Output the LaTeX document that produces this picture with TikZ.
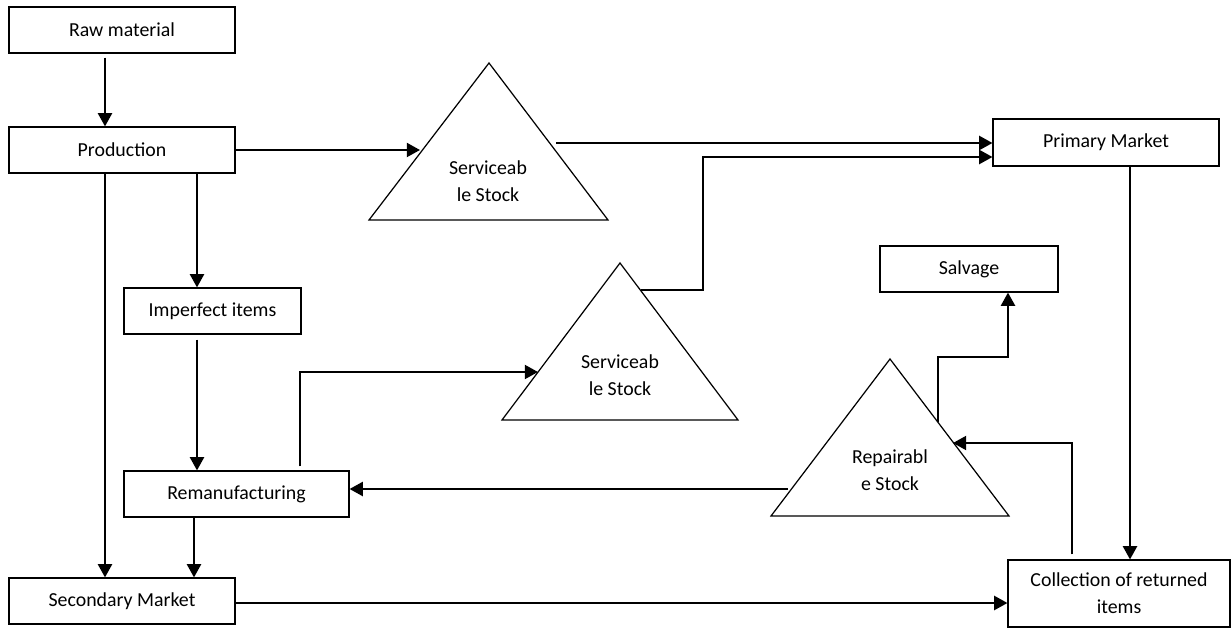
\documentclass[tikz,border=0pt]{standalone}
\usepackage{fontspec}
\setmainfont{Carlito}
\usetikzlibrary{arrows.meta, calc}

\begin{document}
\begin{tikzpicture}[x=0.02cm, y=-0.02cm,
  box/.style={draw, line width=0.7pt, minimum height=0.92cm, inner sep=0pt, align=center, font=\fontsize{11.3}{15.4}\selectfont},
  trilabel/.style={align=center, inner sep=0pt, font=\fontsize{11.3}{15.4}\selectfont},
  tri/.style={draw, line width=0.7pt, line join=miter},
  arr/.style={line width=1.1pt, -{Triangle[length=7.5pt, width=8pt]}}]
  \useasboundingbox (0,0) rectangle (1231,628);

  % Boxes
  \node[box, minimum width=4.52cm] (raw) at (122,30) {Raw material};
  \node[box, minimum width=4.52cm] (prod) at (122,150) {Production};
  \node[box, minimum width=3.54cm] (imp) at (212.5,311) {Imperfect items};
  \node[box, minimum width=4.5cm] (reman) at (236.5,494) {Remanufacturing};
  \node[box, minimum width=4.52cm] (sec) at (122,601) {Secondary Market};
  \node[box, minimum width=4.52cm, minimum height=0.94cm] (prim) at (1106,142.5) {Primary Market};
  \node[box, minimum width=3.56cm] (salv) at (969,269) {Salvage};
  \node[box, minimum width=4.44cm, minimum height=1.34cm] (coll) at (1119,593.5) {Collection of returned\\items};

  % Stocks
  \draw[tri] (369,220) -- (489,63) -- (608,220) -- cycle;
  \node[trilabel] (stock1) at (488,181) {Serviceab\\le Stock};
  \draw[tri] (502,420) -- (620,263) -- (738,420) -- cycle;
  \node[trilabel] (stock2) at (620,375) {Serviceab\\le Stock};
  \draw[tri] (771,516) -- (890,359) -- (1009,516) -- cycle;
  \node[trilabel] (repair) at (890,470) {Repairabl\\e Stock};

  % Points on the stock edges
  \coordinate (s1in) at (420,150);
  \coordinate (s1out) at (556,143);
  \coordinate (s2in) at (538,372);
  \coordinate (s2out) at (641,290);
  \coordinate (repin) at (953,443);
  \coordinate (repout) at (788,489);
  \coordinate (repup) at (938,422);

  % Flows
  \draw[arr] ($(raw.south)+(-17,4)$) -- ($(prod.north)+(-17,0)$);
  \draw[arr] (prod.east) -- (s1in);
  \draw[arr] (s1out) -- (s1out -| prim.west);
  \draw[arr] (s2out) -- ++(62,0) |- ($(prim.west)+(0,14.5)$);
  \draw[arr] ($(prod.south)+(75,0)$) -- ($(imp.north)+(-15.5,0)$);
  \draw[arr] ($(imp.south)+(-15.5,5)$) -- ($(reman.north)+(-39.5,0)$);
  \draw[arr] ($(prod.south)+(-17,0)$) -- ($(sec.north)+(-17,0)$);
  \draw[arr] ($(reman.south)+(-42.5,0)$) -- ($(sec.north)+(72,0)$);
  \draw[arr] ($(reman.north)+(63.5,-4)$) |- (s2in);
  \draw[arr] (repout) -- (repout -| reman.east);
  \draw[arr] (repup) -- ++(0,-65) -| ($(salv.south)+(39,0)$);
  \draw[arr] ($(prim.south)+(24,0)$) -- ($(coll.north)+(11,0)$);
  \draw[arr] ($(coll.north)+(-47,-5)$) |- (repin);
  \draw[arr] ($(sec.east)+(0,2)$) -- ($(coll.west)+(0,9.5)$);
\end{tikzpicture}
\end{document}
